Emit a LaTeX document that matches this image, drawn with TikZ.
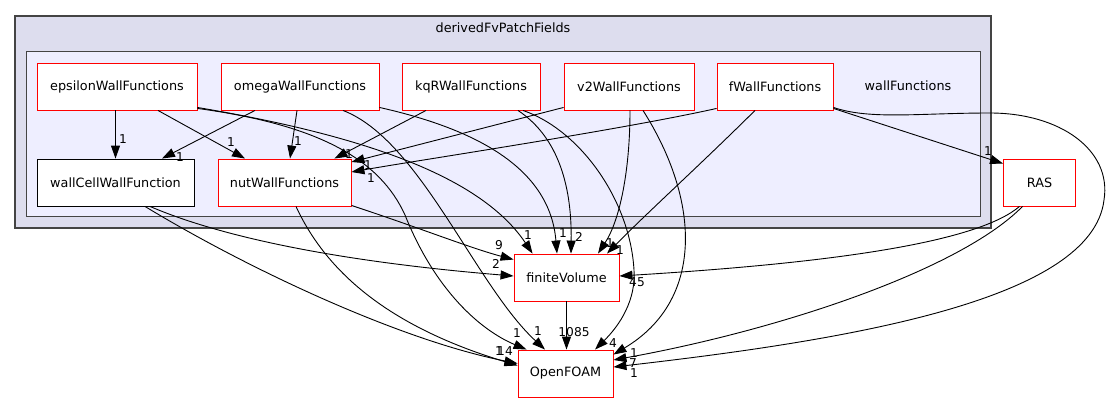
\documentclass[tikz,border=0pt]{standalone}
\usepackage{fontspec}
\setmainfont{DejaVu Sans}
\usetikzlibrary{arrows.meta,calc}
\definecolor{outerfill}{HTML}{DDDDEE}
\definecolor{innerfill}{HTML}{EEEEFF}
\definecolor{clusterline}{HTML}{444444}
\tikzset{
  dirbox/.style={draw=red, fill=white, line width=0.9pt, minimum height=47pt,
    inner sep=0pt, font=\fontsize{12.8}{15}\selectfont},
  plainbox/.style={dirbox, draw=black},
  dep/.style={draw=black, line width=0.9pt, -{Triangle[length=13pt,width=9pt]}},
  cnt/.style={font=\fontsize{12.2}{14}\selectfont, inner sep=0pt},
  clusterlabel/.style={font=\fontsize{12.8}{15}\selectfont, inner sep=0pt},
}
\begin{document}
\begin{tikzpicture}[x=1pt,y=-1pt]
\useasboundingbox (0,0) rectangle (1106,404);
\fill[white] (0,0) rectangle (1106,404);

% directory clusters
\draw[fill=outerfill, draw=clusterline, line width=1.5pt] (15,16) rectangle (991,228);
\node[clusterlabel] (outerlbl) at (503,28) {derivedFvPatchFields};
\draw[fill=innerfill, draw=clusterline, line width=1pt] (26,52) rectangle (980,216);
\node[clusterlabel] (innerlbl) at (908,86) {wallFunctions};

% directories
\node[dirbox, minimum width=160pt] (eps) at (117,86.5) {epsilonWallFunctions};
\node[dirbox, minimum width=158pt] (omega) at (300,86.5) {omegaWallFunctions};
\node[dirbox, minimum width=138pt] (kqR) at (471,86.5) {kqRWallFunctions};
\node[dirbox, minimum width=130pt] (v2) at (629,86.5) {v2WallFunctions};
\node[dirbox, minimum width=116pt] (f) at (775,86.5) {fWallFunctions};
\node[plainbox, minimum width=157pt] (wallCell) at (115.5,182.5) {wallCellWallFunction};
\node[dirbox, minimum width=133pt] (nut) at (284.5,182.5) {nutWallFunctions};
\node[dirbox, minimum width=72pt] (RAS) at (1039.5,182.5) {RAS};
\node[dirbox, minimum width=105pt] (fV) at (566.5,277.5) {finiteVolume};
\node[dirbox, minimum width=95pt] (OF) at (565.5,373.5) {OpenFOAM};

% dependencies of epsilonWallFunctions
\draw[dep] (wallCell.north |- eps.south) -- (wallCell.north);
\draw[dep] ($(eps.south)+(41,0)$) -- ($(nut.north)+(-39.5,0)$);
\draw[dep] ($(eps.south east)+(0,-3)$) .. controls (360,135) and (480,175) .. ($(fV.north west)+(19,0)$);
\draw[dep] ($(eps.south east)+(0,-2)$) .. controls (320,125) and (380,160) .. (405,215)
  .. controls (435,290) and (480,330) .. ($(OF.north west)+(9,0)$);

% dependencies of omegaWallFunctions
\draw[dep] ($(omega.south)+(-45,0)$) -- ($(wallCell.north)+(46.5,0)$);
\draw[dep] ($(omega.south)+(-3,0)$) -- ($(nut.north)+(5.5,0)$);
\draw[dep] ($(omega.south east)+(0,-3)$) .. controls (480,130) and (550,170) .. ($(fV.north)+(-9.5,0)$);
\draw[dep] ($(omega.south)+(43,0)$) .. controls (420,140) and (475,285) .. ($(OF.north)+(-20.5,0)$);

% dependencies of kqRWallFunctions
\draw[dep] ($(kqR.south)+(-45,0)$) -- ($(nut.north east)+(-17,0)$);
\draw[dep] ($(kqR.south)+(47,0)$) .. controls (555,135) and (572,180) .. ($(fV.north)+(4.5,0)$);
\draw[dep] ($(kqR.south)+(52,0)$) .. controls (580,130) and (630,200) .. (634,270)
  .. controls (636,300) and (620,325) .. ($(OF.north)+(29.5,0)$);

% dependencies of v2WallFunctions
\draw[dep] ($(v2.south west)+(0,-3)$) -- ($(nut.east)+(0,-20.5)$);
\draw[dep] ($(v2.south)+(1,0)$) .. controls (630,170) and (620,220) .. ($(fV.north)+(31.5,0)$);
\draw[dep] ($(v2.south)+(14,0)$) .. controls (700,200) and (705,300) .. ($(OF.north east)+(0,5)$);

% dependencies of fWallFunctions
\draw[dep] ($(f.south west)+(0,-2)$) .. controls (620,130) and (420,160) .. ($(nut.east)+(0,-10.5)$);
\draw[dep] ($(f.south)+(-20,0)$) .. controls (700,165) and (650,210) .. ($(fV.north)+(40.5,0)$);
\draw[dep] ($(f.south east)+(0,-2)$) -- ($(RAS.north west)+(0,5)$);
\draw[dep] ($(f.south east)+(0,-3)$) .. controls (870,120) and (920,113) .. (990,113)
  .. controls (1060,113) and (1112,150) .. (1104,200)
  .. controls (1092,300) and (850,340) .. ($(OF.east)+(0,-6.5)$);

% dependencies of wallCellWallFunction and nutWallFunctions
\draw[dep] ($(wallCell.south)+(34.5,0)$) .. controls (240,245) and (380,265) .. ($(fV.west)+(0,-1.5)$);
\draw[dep] ($(wallCell.south)+(29.5,0)$) .. controls (250,270) and (400,340) .. ($(OF.west)+(0,-10)$);
\draw[dep] ($(nut.south east)+(0,-1)$) .. controls (420,228) and (470,248) .. ($(fV.north west)+(0,6)$);
\draw[dep] ($(nut.south)+(11.5,0)$) .. controls (330,280) and (400,330) .. ($(OF.west)+(0,-8)$);

% dependencies of finiteVolume and RAS
\draw[dep] (fV.south) -- (fV.south |- OF.north);
\draw[dep] ($(RAS.south)+(-20,0)$) .. controls (980,240) and (850,262) .. ($(fV.east)+(0,-1.5)$);
\draw[dep] ($(RAS.south)+(-17,0)$) .. controls (960,270) and (780,330) .. ($(OF.east)+(0,-13.5)$);

% include counts
\node[cnt] (c1) at (123,139) {1};
\node[cnt] (c2) at (231,142) {1};
\node[cnt] (c3) at (528,235) {1};
\node[cnt] (c4) at (517,333) {1};
\node[cnt] (c5) at (180,157) {1};
\node[cnt] (c6) at (298,141) {1};
\node[cnt] (c7) at (563,233) {1};
\node[cnt] (c8) at (538,331) {1};
\node[cnt] (c9) at (349,154) {1};
\node[cnt] (c10) at (579,237) {2};
\node[cnt] (c11) at (613,343) {4};
\node[cnt] (c12) at (368,165) {1};
\node[cnt] (c13) at (610,243) {1};
\node[cnt] (c14) at (634,353) {1};
\node[cnt] (c15) at (371,178) {1};
\node[cnt] (c16) at (620,250) {1};
\node[cnt] (c17) at (988,151) {1};
\node[cnt] (c18) at (634,373) {1};
\node[cnt] (c19) at (496,264) {2};
\node[cnt] (c20) at (499,351) {1};
\node[cnt] (c21) at (499,245) {9};
\node[cnt] (c22) at (505,351) {14};
\node[cnt] (c23) at (574,332) {1085};
\node[cnt] (c24) at (637,282) {45};
\node[cnt] (c25) at (633,363) {7};
\end{tikzpicture}
\end{document}
